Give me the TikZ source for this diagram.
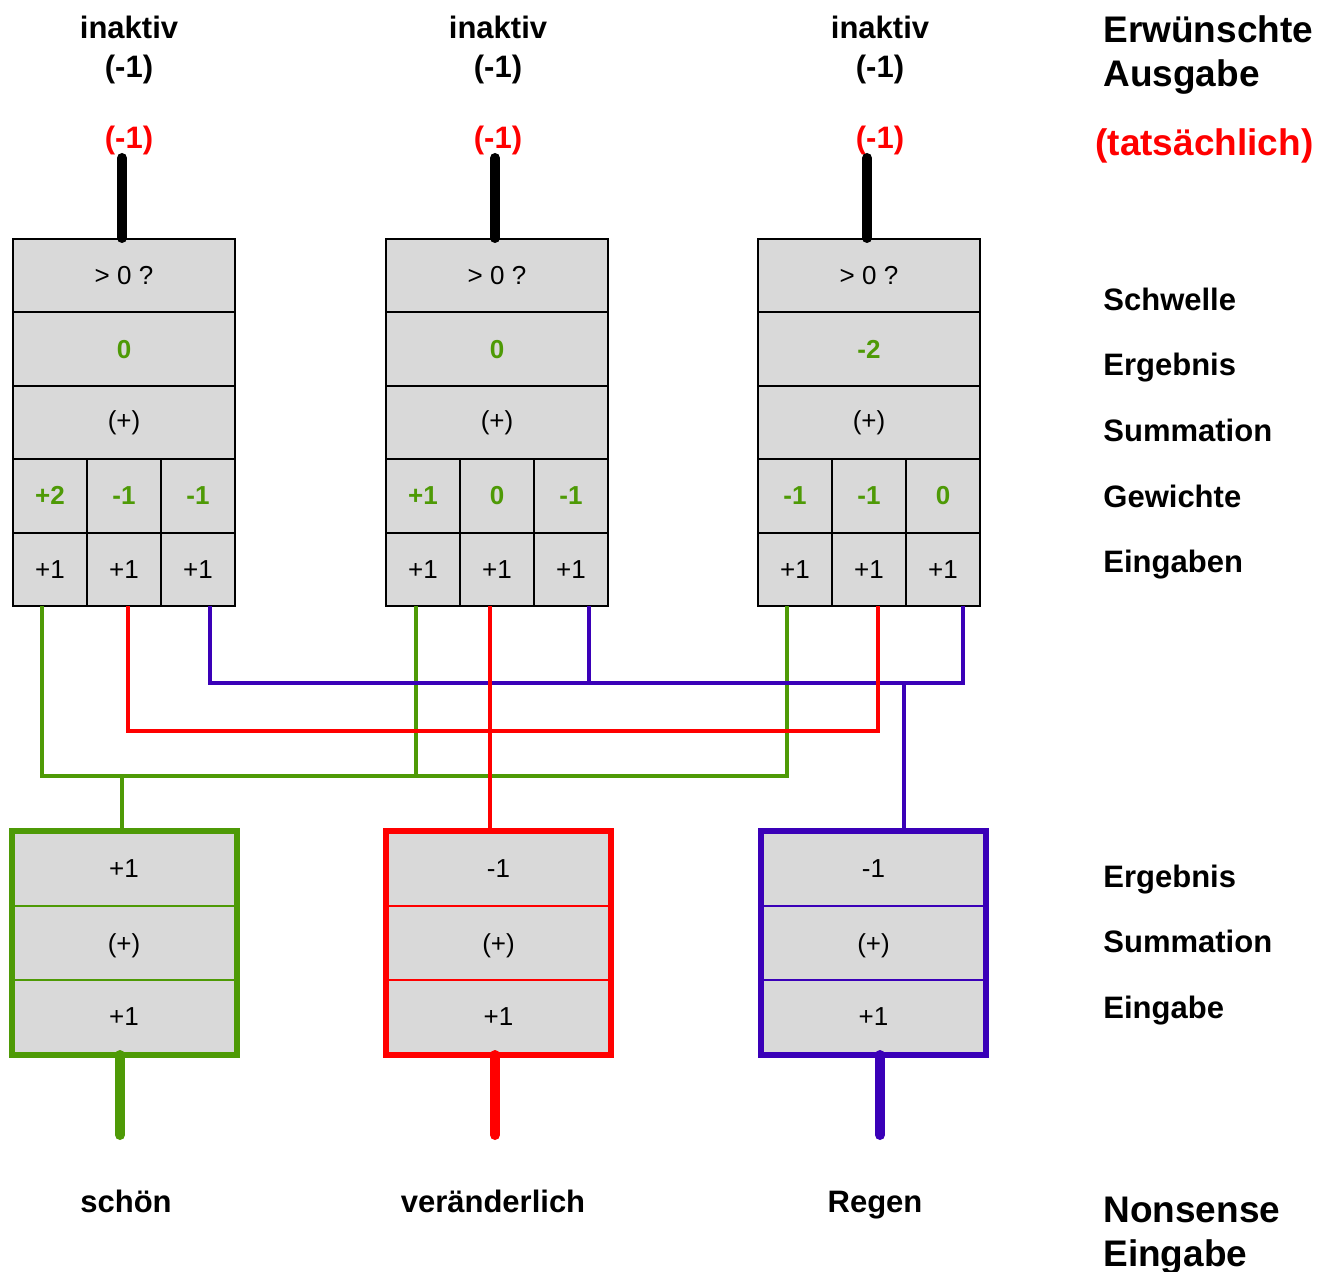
\documentclass[tikz,border=0pt]{standalone}
\usepackage{fontspec}
\setmainfont{Liberation Sans}
\definecolor{gruen}{RGB}{78,154,6}
\definecolor{rot}{RGB}{255,0,0}
\definecolor{blau}{RGB}{58,0,184}
\definecolor{grau}{RGB}{217,217,217}

\begin{document}
\begin{tikzpicture}[x=0.5pt, y=-0.5pt,
    cell/.style={draw=black, line width=1pt, fill=grau, inner sep=0pt, font=\fontsize{13}{15}\selectfont},
    wide/.style={cell, minimum width=111pt, minimum height=36.7pt},
    small/.style={cell, minimum width=37pt, minimum height=36.7pt},
    val/.style={text=gruen, font=\fontsize{13}{15}\selectfont\bfseries},
    inrow/.style={draw=#1, line width=1pt, fill=grau, inner sep=0pt, minimum width=111.5pt, minimum height=37pt, text depth=0pt, font=\fontsize{13}{15}\selectfont},
    lab/.style={inner sep=0pt, align=center, font=\fontsize{15.5}{19.5}\selectfont\bfseries},
    side/.style={inner sep=0pt, anchor=base west, font=\fontsize{15.5}{19.5}\selectfont\bfseries},
    big/.style={inner sep=0pt, anchor=west, align=left, font=\fontsize{18.5}{22}\selectfont\bfseries},
    wire/.style={line width=2.2pt},
    stub/.style={line width=5pt, line cap=round}
]
\useasboundingbox (0,0) rectangle (1331,1272);

% Ausgabeneuronen
\foreach \i/\x/\lx/\r/\wa/\wb/\wc in {1/124/129/0/+2/-1/-1, 2/497/498/0/+1/0/-1, 3/869/880/-2/-1/-1/0} {
  \node[wide] (thr\i) at (\x,275.7) {> 0 ?};
  \node[wide, val] (res\i) at (\x,349.1) {\r};
  \node[wide] (sum\i) at (\x,422.5) {(+)};
  \node[small, val] (w\i a) at (\x-74,495.9) {\wa};
  \node[small, val] (w\i b) at (\x,495.9) {\wb};
  \node[small, val] (w\i c) at (\x+74,495.9) {\wc};
  \node[small] (e\i a) at (\x-74,569.3) {+1};
  \node[small] (e\i b) at (\x,569.3) {+1};
  \node[small] (e\i c) at (\x+74,569.3) {+1};
  \node[lab] (soll\i) at (\lx,50) {inaktiv\\(-1)};
  \node[lab, anchor=base, text=rot] (ist\i) at (\lx,149) {(-1)};
  \coordinate (out\i) at (\x-2,158);
  \draw[stub] (out\i) -- (out\i |- thr\i.north);
}

% Eingabeneuronen
\node[inrow=gruen] (ergS) at (124,869) {+1};
\node[inrow=gruen] (sumS) at (124,943) {(+)};
\node[inrow=gruen] (einS) at (124,1017) {+1};
\draw[gruen, line width=3pt] (ergS.north west) rectangle (einS.south east);

\node[inrow=rot] (ergV) at (498.5,869) {-1};
\node[inrow=rot] (sumV) at (498.5,943) {(+)};
\node[inrow=rot] (einV) at (498.5,1017) {+1};
\draw[rot, line width=3pt] (ergV.north west) rectangle (einV.south east);

\node[inrow=blau] (ergR) at (873.5,869) {-1};
\node[inrow=blau] (sumR) at (873.5,943) {(+)};
\node[inrow=blau] (einR) at (873.5,1017) {+1};
\draw[blau, line width=3pt] (ergR.north west) rectangle (einR.south east);

\coordinate (inS) at (120,1135);
\coordinate (inV) at (495,1135);
\coordinate (inR) at (880,1135);
\draw[stub, gruen] (inS) -- (inS |- einS.south);
\draw[stub, rot] (inV) -- (inV |- einV.south);
\draw[stub, blau] (inR) -- (inR |- einR.south);

\node[lab, anchor=base] (schoen) at (126,1212) {schön};
\node[lab, anchor=base] (veraend) at (493,1212) {veränderlich};
\node[lab, anchor=base] (regen) at (875,1212) {Regen};

% Verbindungen
\coordinate (g1) at (42,606);
\coordinate (g2) at (416,606);
\coordinate (g3) at (787,606);
\coordinate (gj) at (122,776);
\draw[wire, gruen] (g1) |- (g3 |- gj) -- (g3);
\draw[wire, gruen] (g2) -- (g2 |- gj);
\draw[wire, gruen] (gj) -- (gj |- ergS.north);

\coordinate (b1) at (210,606);
\coordinate (b2) at (589,606);
\coordinate (b3) at (963,606);
\coordinate (bj) at (904,683);
\draw[wire, blau] (b1) -- ++(0,77) -| (b3);
\draw[wire, blau] (b2) -- (b2 |- bj);
\draw[wire, blau] (bj) -- (bj |- ergR.north);

\coordinate (r1) at (128,606);
\coordinate (r2) at (490,606);
\coordinate (r3) at (878,606);
\draw[wire, rot] (r1) -- ++(0,125) -| (r3);
\draw[wire, rot] (r2) -- (r2 |- ergV.north);

% Beschriftung rechts
\node[big] (erw) at (1103,55) {Erwünschte\\Ausgabe};
\node[big, anchor=base west, text=rot] (tats) at (1095,156) {(tatsächlich)};
\node[side] (schw) at (1103,311) {Schwelle};
\node[side] (erg) at (1103,376) {Ergebnis};
\node[side] (summ) at (1103,442) {Summation};
\node[side] (gew) at (1103,507) {Gewichte};
\node[side] (eing) at (1103,572) {Eingaben};
\node[side] (erg2) at (1103,887) {Ergebnis};
\node[side] (summ2) at (1103,952) {Summation};
\node[side] (eing2) at (1103,1018) {Eingabe};
\node[big] (nons) at (1103,1236) {Nonsense\\Eingabe};

\end{tikzpicture}
\end{document}
